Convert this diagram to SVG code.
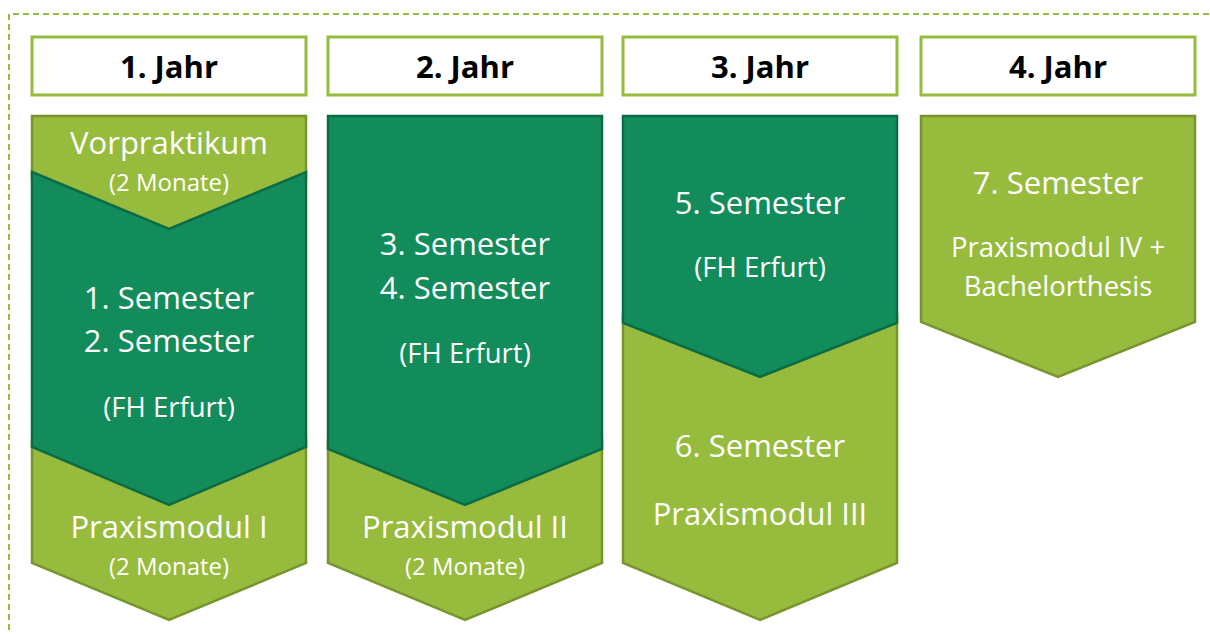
<svg xmlns="http://www.w3.org/2000/svg" width="1210" height="634" viewBox="0 0 1210 634">
<style>
.hdr{fill:#fff;stroke:#97bb3d;stroke-width:3}
.lt{fill:#97bb3d;stroke:#77952e;stroke-width:2.5;stroke-linejoin:miter}
.dk{fill:#128c5a;stroke:#0c6b43;stroke-width:2.5;stroke-linejoin:miter}
.h{font-family:"Open Sans","Noto Sans",sans-serif;font-weight:bold;font-size:31px;fill:#000;text-anchor:middle}
.b{font-family:"Open Sans","Noto Sans",sans-serif;font-size:31px;fill:#fff;text-anchor:middle}
.m{font-family:"Open Sans","Noto Sans",sans-serif;font-size:27.5px;fill:#fff;text-anchor:middle}
.s{font-family:"Open Sans","Noto Sans",sans-serif;font-size:24px;fill:#fff;text-anchor:middle}
</style>
<rect width="1210" height="634" fill="#fff"/>
<path d="M9,640 V14 H1215" fill="none" stroke="#97bb3d" stroke-width="2" stroke-dasharray="6,4"/>
<g id="col1">
<rect class="hdr" x="32" y="37" width="274" height="58"/>
<text class="h" x="169" y="78">1. Jahr</text>
<polygon class="lt" points="32,440 306,440 306,563 169,620 32,563"/>
<polygon class="lt" points="32,116 306,116 306,180 169,237 32,180"/>
<polygon class="dk" points="32,172 169,229 306,172 306,447 169,505 32,447"/>
<text class="b" x="169" y="154">Vorpraktikum</text>
<text class="s" x="169" y="191">(2 Monate)</text>
<text class="b" x="169" y="309">1. Semester</text>
<text class="b" x="169" y="352">2. Semester</text>
<text class="m" x="169" y="417">(FH Erfurt)</text>
<text class="b" x="169" y="538">Praxismodul I</text>
<text class="s" x="169" y="575">(2 Monate)</text>
</g>
<g id="col2">
<rect class="hdr" x="328" y="37" width="274" height="58"/>
<text class="h" x="465" y="78">2. Jahr</text>
<polygon class="lt" points="328,440 602,440 602,563 465,620 328,563"/>
<polygon class="dk" points="328,116 602,116 602,449 465,505 328,449"/>
<text class="b" x="465" y="255">3. Semester</text>
<text class="b" x="465" y="299">4. Semester</text>
<text class="m" x="465" y="363">(FH Erfurt)</text>
<text class="b" x="465" y="538">Praxismodul II</text>
<text class="s" x="465" y="575">(2 Monate)</text>
</g>
<g id="col3">
<rect class="hdr" x="623" y="37" width="274" height="58"/>
<text class="h" x="760" y="78">3. Jahr</text>
<polygon class="lt" points="623,315 897,315 897,563 760,620 623,563"/>
<polygon class="dk" points="623,116 897,116 897,323 760,377 623,323"/>
<text class="b" x="760" y="214">5. Semester</text>
<text class="m" x="760" y="277">(FH Erfurt)</text>
<text class="b" x="760" y="457">6. Semester</text>
<text class="b" x="760" y="525">Praxismodul III</text>
</g>
<g id="col4">
<rect class="hdr" x="921" y="37" width="274" height="58"/>
<text class="h" x="1058" y="78">4. Jahr</text>
<polygon class="lt" points="921,116 1195,116 1195,322 1058,377 921,322"/>
<text class="b" x="1058" y="194">7. Semester</text>
<text class="m" x="1058" y="257">Praxismodul IV +</text>
<text class="m" x="1058" y="296">Bachelorthesis</text>
</g>
<g id="connectors"/>
</svg>
